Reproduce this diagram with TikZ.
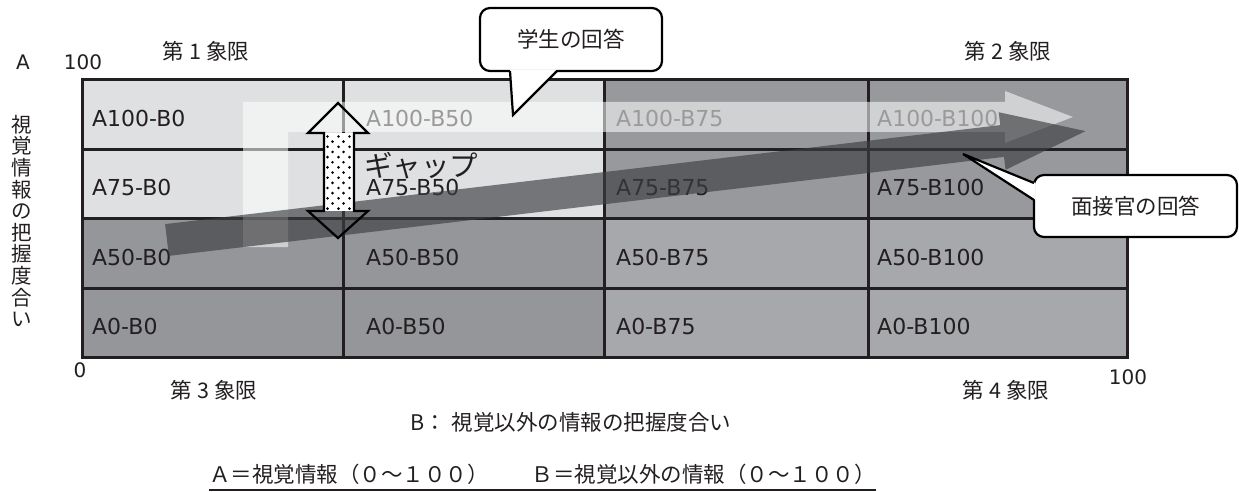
\documentclass[tikz,border=0pt]{standalone}
\usepackage{fontspec}
\setmainfont{DejaVu Sans}
\newfontfamily\jp{Noto Sans CJK JP}
\definecolor{gridc}{HTML}{231F20}
\definecolor{lightq}{HTML}{DFE0E2}
\definecolor{trq}{HTML}{98999C}
\definecolor{blq}{HTML}{95969A}
\definecolor{brq}{HTML}{A7A8AB}
\definecolor{darkarrow}{HTML}{3C3D40}
\definecolor{txt}{HTML}{231F20}
\tikzset{
  cell label/.style={anchor=west, inner sep=0pt, text=txt, font=\fontsize{22}{26}\selectfont},
  numtext/.style={inner sep=0pt, text=txt, font=\fontsize{20}{24}\selectfont},
  jptext/.style={inner sep=0pt, text=txt, font=\jp\fontsize{21.5}{26}\selectfont},
  gridline/.style={draw=gridc, line width=3pt},
  callbox/.style={draw=black, line width=2.2pt, fill=white, rounded corners=10pt, inner sep=0pt, text=txt, font=\jp\fontsize{21.5}{26}\selectfont},
  pointerline/.style={draw=black, line width=2.2pt, line join=miter},
  whitearrow/.style={fill=white, fill opacity=0.55},
  darkarrowstyle/.style={fill=darkarrow, fill opacity=0.65},
  gapoutline/.style={draw=black, line width=2.2pt, line join=miter},
}
\begin{document}
\begin{tikzpicture}[x=1pt,y=-1pt]
\useasboundingbox (0,0) rectangle (1239,492);
% quadrant fills
\fill[lightq] (82,80) rectangle (604,218);
\fill[trq] (604,80) rectangle (1127,218);
\fill[blq] (82,218) rectangle (604,357);
\fill[brq] (604,218) rectangle (1127,357);
% grid
\foreach \y in {149,218,288} \draw[gridline] (82,\y) -- (1127,\y);
\foreach \x in {343,604,868} \draw[gridline] (\x,80) -- (\x,357);
\draw[gridline] (82,80) rectangle (1127,357);
% cell labels
\foreach \a/\y in {100/118.5, 75/187.5, 50/257, 0/326.5} {
  \foreach \b/\x in {0/92, 50/366, 75/616, 100/877} {
    \node[cell label] (cA\a B\b) at (\x,\y) {A\a-B\b};
  }
}
% student answer arrow (L-shaped, translucent white)
\fill[whitearrow] (243,247) -- (243,102) -- (1005,102) -- (1005,91) -- (1073,117)
  -- (1005,143) -- (1005,132) -- (288,132) -- (288,247) -- cycle;
% interviewer answer arrow (translucent dark)
\begin{scope}[shift={(167,240)}, rotate=6.76]
  \fill[darkarrowstyle] (0,-16) -- (841,-16) -- (841,-29) -- (925,0) -- (841,29) -- (841,16) -- (0,16) -- cycle;
\end{scope}
% gap arrow
\fill[white] (324,133) rectangle (354,211);
\foreach \r in {0,...,14} {
  \pgfmathsetmacro{\yy}{136.5+5.15*\r}
  \ifodd\r
    \foreach \xx in {332.5,343.5} \fill[black] (\xx,\yy) circle (1.45pt);
  \else
    \foreach \xx in {327.5,338.5,349.5} \fill[black] (\xx,\yy) circle (1.45pt);
  \fi
}
\draw[gapoutline] (338,103) -- (368,133) -- (354,133) -- (354,211) -- (368,211) -- (338,238)
  -- (308,211) -- (324,211) -- (324,133) -- (308,133) -- cycle;
\node[anchor=west, inner sep=0pt, text=txt, font=\jp\fontsize{28.5}{30}\selectfont] (gap) at (364,166) {ギャップ};
% callouts
\node[callbox, minimum width=182pt, minimum height=63pt] (stu) at (571,39.5) {学生の回答};
\coordinate (stuA) at (510,71);
\coordinate (stuB) at (557,71);
\coordinate (stuT) at (513,115);
\fill[white] ([yshift=1.7pt]stuA) -- (stuT) -- ([yshift=1.7pt]stuB) -- cycle;
\draw[pointerline] (stuA) -- (stuT) -- (stuB);
\node[callbox, minimum width=203pt, minimum height=62pt] (itv) at (1135.5,206) {面接官の回答};
\coordinate (itvA) at (1034,183);
\coordinate (itvB) at (1034,200);
\coordinate (itvT) at (963,154);
\fill[white] ([xshift=1.7pt]itvA) -- (itvT) -- ([xshift=1.7pt]itvB) -- cycle;
\draw[pointerline] (itvA) -- (itvT) -- (itvB);
% axis texts
\node[numtext] (axA) at (23,62.5) {A};
\node[numtext] (a100) at (83,62.5) {100};
\node[numtext] (zero) at (80,370) {0};
\node[numtext] (b100) at (1128,377) {100};
\node[jptext] (q1) at (206,51) {第\hspace{5pt}1\hspace{5pt}象限};
\node[jptext] (q2) at (1008,51) {第\hspace{5pt}2\hspace{5pt}象限};
\node[jptext] (q3) at (214,390) {第\hspace{5pt}3\hspace{5pt}象限};
\node[jptext] (q4) at (1006,390) {第\hspace{5pt}4\hspace{5pt}象限};
\node[inner sep=0pt, text=txt, align=center, font=\jp\fontsize{20.5}{21.6}\selectfont] (ylab) at (22,221)
  {視\\覚\\情\\報\\の\\把\\握\\度\\合\\い};
\node[jptext, anchor=west] (xlab) at (410,422) {B：\hspace{6pt}視覚以外の情報の把握度合い};
\node[jptext, anchor=west] (legend) at (209,474) {Ａ＝視覚情報（０～１００）　　Ｂ＝視覚以外の情報（０～１００）};
\coordinate (ulY) at (0,490);
\draw[line width=1.2pt, draw=txt] (legend.west |- ulY) -- (legend.east |- ulY);
\end{tikzpicture}
\end{document}
